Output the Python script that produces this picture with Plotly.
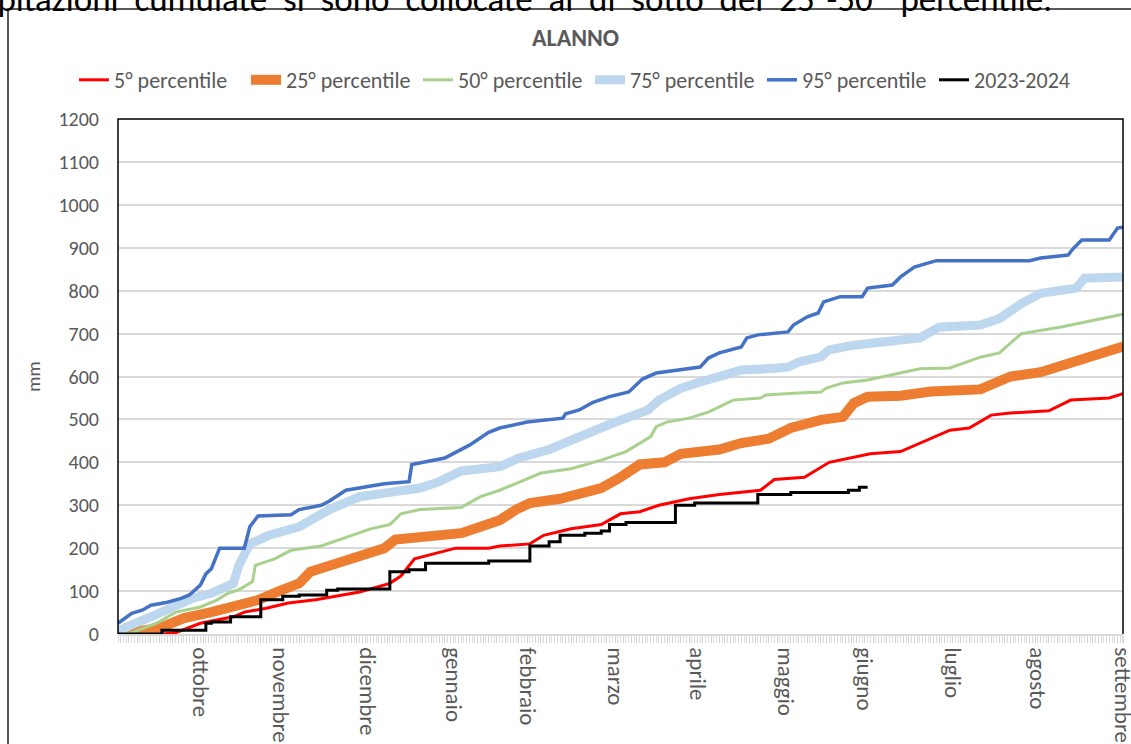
import plotly.graph_objects as go

# ---- data (day index from 1 Sep, cumulative mm) ----
p5_day = [0, 16, 21, 30, 42, 46, 54, 62, 72, 81, 88, 99, 103, 108, 117, 123, 135, 139, 150, 155, 165, 176, 183, 190, 197, 208, 219, 234, 239, 250, 259, 267, 274, 285, 296, 303, 310, 318, 325, 339, 347, 361, 366]
p5_val = [0, 0, 3, 25, 40, 51, 60, 72, 80, 91, 98, 118, 135, 175, 190, 200, 200, 205, 210, 230, 245, 255, 280, 285, 300, 315, 325, 335, 360, 365, 400, 410, 420, 425, 455, 475, 480, 510, 515, 520, 545, 550, 560]

p25_day = [0, 5, 16, 24, 34, 44, 51, 58, 66, 70, 77, 86, 92, 97, 101, 114, 125, 132, 139, 145, 150, 161, 168, 176, 183, 190, 199, 205, 219, 227, 237, 245, 256, 264, 268, 273, 285, 296, 314, 325, 336, 343, 354, 366]
p25_val = [0, 3, 16, 37, 51, 67, 79, 98, 118, 145, 160, 175, 190, 200, 220, 225, 235, 250, 265, 290, 305, 315, 325, 340, 365, 395, 400, 420, 430, 445, 455, 480, 499, 506, 538, 553, 555, 565, 570, 600, 610, 625, 650, 670]

p50_day = [0, 5, 14, 21, 30, 36, 40, 44, 49, 50, 57, 63, 74, 83, 92, 99, 103, 110, 125, 132, 139, 154, 165, 176, 185, 194, 196, 200, 208, 215, 224, 234, 236, 246, 256, 258, 264, 273, 284, 292, 303, 314, 321, 329, 343, 354, 366]
p50_val = [0, 3, 25, 51, 63, 79, 95, 103, 122, 160, 175, 195, 205, 225, 245, 255, 280, 290, 295, 320, 335, 375, 385, 405, 425, 460, 483, 494, 503, 517, 545, 550, 557, 561, 564, 573, 585, 592, 608, 618, 620, 645, 655, 700, 715, 730, 745]

p75_day = [0, 3, 12, 18, 27, 34, 42, 44, 48, 55, 66, 77, 88, 99, 110, 117, 125, 139, 146, 157, 171, 180, 188, 193, 197, 205, 212, 219, 227, 239, 244, 248, 256, 259, 268, 285, 292, 299, 314, 321, 329, 336, 349, 352, 366]
p75_val = [5, 16, 40, 56, 83, 95, 118, 160, 210, 230, 250, 290, 320, 330, 340, 355, 380, 390, 410, 430, 470, 491, 510, 522, 545, 573, 587, 599, 615, 619, 622, 634, 646, 662, 673, 685, 690, 715, 720, 735, 770, 794, 806, 829, 832]

p95_day = [0, 5, 9, 12, 18, 23, 26, 30, 32, 34, 37, 46, 48, 51, 63, 66, 74, 77, 83, 88, 97, 106, 107, 119, 125, 128, 135, 139, 149, 162, 163, 168, 173, 179, 186, 191, 196, 205, 212, 215, 219, 227, 229, 233, 244, 246, 251, 255, 257, 263, 271, 273, 282, 285, 290, 298, 332, 336, 346, 348, 351, 361, 364, 366]
p95_val = [25, 48, 56, 67, 74, 83, 91, 114, 140, 152, 200, 200, 250, 275, 278, 290, 300, 310, 335, 340, 350, 355, 395, 410, 430, 440, 470, 480, 494, 503, 513, 522, 540, 553, 564, 594, 608, 615, 622, 643, 655, 669, 690, 697, 704, 720, 739, 748, 774, 786, 786, 806, 813, 832, 855, 870, 870, 876, 883, 899, 918, 918, 946, 948]

y2324_day = [0, 16, 32, 34, 41, 52, 60, 66, 76, 80, 99, 106, 112, 135, 150, 157, 161, 170, 176, 179, 185, 203, 210, 233, 245, 266, 270, 273]
y2324_val = [0, 9, 25, 28, 40, 80, 88, 91, 102, 105, 145, 150, 165, 170, 205, 215, 230, 235, 240, 255, 260, 300, 305, 325, 330, 335, 342, 342]

month_pos = [30, 59, 91, 122, 149, 181, 211, 243, 272, 304, 335, 365.7]
month_lab = ["ottobre", "novembre", "dicembre", "gennaio", "febbraio", "marzo",
             "aprile", "maggio", "giugno", "luglio", "agosto", "settembre"]
y_ticks = list(range(0, 1300, 100))

FONT = "Carlito, Lato, sans-serif"
GRAY = "#595959"

fig = go.Figure()
series = [
    ("5° percentile", p5_day, p5_val, "#FF0000", 3, "linear"),
    ("25° percentile", p25_day, p25_val, "#ED7D31", 10, "linear"),
    ("50° percentile", p50_day, p50_val, "#A9D18E", 3, "linear"),
    ("75° percentile", p75_day, p75_val, "#BDD7EE", 9, "linear"),
    ("95° percentile", p95_day, p95_val, "#4472C4", 3.5, "linear"),
    ("2023-2024", y2324_day, y2324_val, "#000000", 3, "hv"),
]
for name, xs, ys, col, w, shp in series:
    fig.add_trace(go.Scatter(x=xs, y=ys, mode="lines", name=name,
                             line=dict(color=col, width=w, shape=shp)))

L, R, T, B = 118, 1123, 119, 634
W, H = 1131, 744
pw, ph = R - L, B - T


def px(x):
    return (x - L) / pw


def py(y):
    return (B - y) / ph


NB = "\u00a0"
top_text = (NB + " ").join("precipitazioni cumulate si sono collocate al di sotto del 25°-50° percentile.".split(" "))

fig.update_layout(
    width=W, height=H,
    margin=dict(l=L, r=W - R, t=T, b=H - B, pad=0, autoexpand=False),
    paper_bgcolor="white", plot_bgcolor="white",
    font=dict(family=FONT, color=GRAY, size=16),
    showlegend=True,
    legend=dict(orientation="h", x=px(74), y=py(80), xanchor="left", yanchor="middle",
                font=dict(size=22, color=GRAY, family=FONT),
                entrywidth=127, itemwidth=30, tracegroupgap=0),
    xaxis=dict(range=[0, 366], tickmode="array", tickvals=month_pos, ticktext=month_lab,
               tickangle=90, showgrid=False, zeroline=False, automargin=False,
               ticklabeloverflow="allow",
               showline=True, linecolor="#d9d9d9", linewidth=1.5,
               ticks="outside", ticklen=7, tickcolor="#d9d9d9",
               tickfont=dict(size=23, color=GRAY, family=FONT),
               minor=dict(tickmode="linear", tick0=0, dtick=1, ticks="outside",
                          ticklen=7, tickcolor="#d9d9d9", tickwidth=1, showgrid=False)),
    yaxis=dict(range=[0, 1200], tickmode="array", tickvals=y_ticks, automargin=False,
               showgrid=True, gridcolor="#d9d9d9", gridwidth=1.5, zeroline=False,
               showline=False, ticks="", ticklabelstandoff=18,
               tickfont=dict(size=20, color=GRAY, family=FONT),
               title=dict(text="mm", font=dict(size=19, color=GRAY, family=FONT), standoff=12)),
    shapes=[
        dict(type="path", xref="paper", yref="paper",
             path="M 0 0 L 0 1 L 1 1 L 1 0", line=dict(color="black", width=1.5), layer="above"),
        dict(type="path", xref="paper", yref="paper",
             path=f"M {px(8)} {py(750)} L {px(8)} {py(9)} L {px(1140)} {py(9)}",
             line=dict(color="#222222", width=1.5), layer="above"),
    ],
    annotations=[
        dict(text="<b>ALANNO</b>", xref="paper", yref="paper", x=px(575), y=py(38),
             xanchor="center", yanchor="middle",
             showarrow=False, font=dict(size=24, color=GRAY, family=FONT)),
        dict(text=top_text,
             xref="paper", yref="paper", x=px(1054), y=py(22), xanchor="right", yanchor="bottom",
             showarrow=False, font=dict(size=35, color="black", family=FONT)),
    ],
)

fig.write_html("out.html", config={"displayModeBar": False},
               post_script="document.body.style.margin='0px';document.body.style.padding='0px';")
